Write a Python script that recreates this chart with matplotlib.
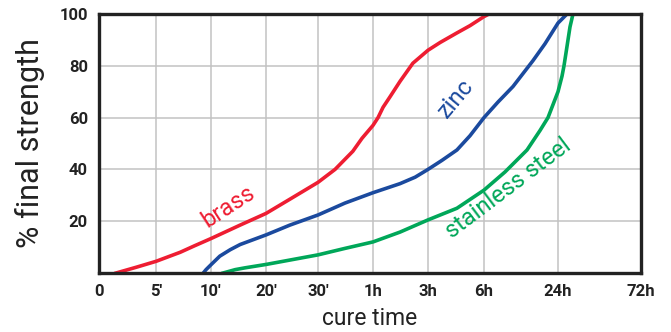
import numpy as np
import matplotlib.pyplot as plt

plt.rcParams['font.family'] = ['Roboto', 'DejaVu Sans']

# cure time axis ticks (minutes) and their labels
tick_min = [0, 5, 10, 20, 30, 60, 180, 360, 1440, 4320]
tick_lbl = ['0', "5'", "10'", "20'", "30'", '1h', '3h', '6h', '24h', '72h']
# relative spacing of the ticks along the axis
tick_pos = [0, 57, 112, 167, 219, 274, 329, 385, 459, 542]

# curves: time in minutes, % of final strength
brass_t = [1.5, 3.25, 5, 7.2, 8.5, 10, 15.3, 20, 24.6, 30, 39.3, 49, 54, 60, 71, 82, 97,
           119, 147, 180, 219, 273, 315, 360, 433]
brass_s = [0, 2.2, 4.5, 8.0, 10.5, 13.3, 18.5, 23, 28.5, 35, 40, 47, 52, 57, 60, 64, 68,
           74, 81, 86, 89, 92.7, 95.5, 99, 100]

zinc_t = [9.3, 9.55, 10, 11.6, 13.5, 15.3, 20, 24.6, 30, 44.7, 60, 119, 152, 180, 225, 273,
          315, 360, 564, 783, 929, 1075, 1250, 1440, 1752]
zinc_s = [0, 1.3, 3.2, 6.5, 9, 11, 14.7, 18.5, 22.4, 27, 31, 34.5, 37, 40, 43.5, 47.5,
          53, 60, 66, 72, 77, 82, 88.5, 96.5, 100]

steel_t = [12.2, 14.4, 16.2, 20, 24.6, 30, 44.7, 60, 119, 180, 273, 360, 666, 988, 1177,
           1294, 1367, 1440, 1579, 1648, 1718, 1787, 1856, 1960]
steel_s = [0, 1.3, 2, 3.3, 5, 7, 9.5, 12, 15.8, 20.5, 25, 32, 39, 47.5, 55,
           60, 65, 70, 76, 80, 85, 90, 95, 100]


def fwd(x):
    return np.interp(x, tick_min, tick_pos)


def inv(p):
    return np.interp(p, tick_pos, tick_min)


fig = plt.figure(figsize=(6.71, 3.32), dpi=100)
ax = fig.add_axes([99 / 671, 59 / 332, 542 / 671, 259 / 332])
ax.set_xscale('function', functions=(fwd, inv))

red = '#ee1d32'
blue = '#1b4a9e'
green = '#00a759'

ax.plot(brass_t, brass_s, color=red, lw=2.6, solid_joinstyle='round')
ax.plot(zinc_t, zinc_s, color=blue, lw=2.6, solid_joinstyle='round')
ax.plot(steel_t, steel_s, color=green, lw=2.6, solid_joinstyle='round')

ax.set_xlim(0, 4320)
ax.set_ylim(0, 100)
ax.set_xticks(tick_min)
ax.set_xticklabels(tick_lbl)
ax.set_yticks([20, 40, 60, 80, 100])
ax.set_yticklabels(['20', '40', '60', '80', '100'])
ax.tick_params(length=0, labelsize=12, colors='#222222', pad=8)
for lab in ax.get_xticklabels() + ax.get_yticklabels():
    lab.set_fontweight('bold')

ax.grid(True, color='#c2c2c2', lw=1.1)
ax.set_axisbelow(True)
for sp in ax.spines.values():
    sp.set_color('#222222')
    sp.set_linewidth(2.4)

ax.set_xlabel('cure time', fontsize=16.5, color='#222222', labelpad=6)
ax.set_ylabel('% final strength', fontsize=22, color='#222222', labelpad=10)

ax.text(13.1, 25.5, 'brass', color=red, fontsize=17, rotation=33, ha='center', va='center')
ax.text(270, 67.5, 'zinc', color=blue, fontsize=17, rotation=50, ha='center', va='center')
ax.text(710, 32.8, 'stainless steel', color=green, fontsize=17, rotation=37,
        ha='center', va='center')

fig.savefig('out.png', dpi=100)
